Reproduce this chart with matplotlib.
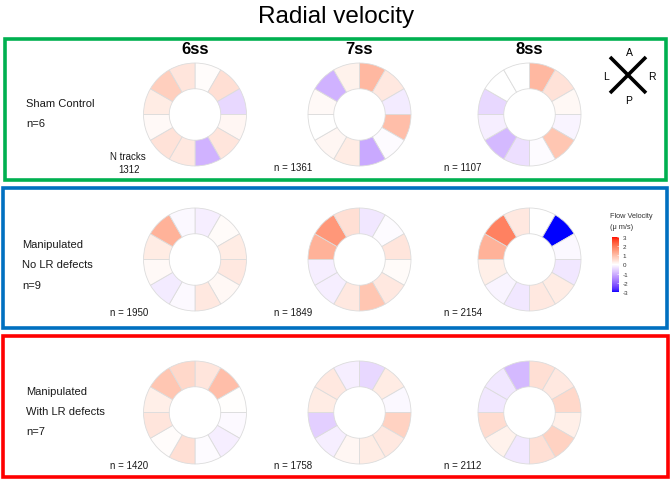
#!/usr/bin/env python

import numpy as np
import matplotlib as mpl
import matplotlib.pyplot as plt
from matplotlib.patches import Rectangle

mpl.rc('font', family=['Liberation Sans', 'DejaVu Sans'])
mpl.rc('axes', unicode_minus=False)
mpl.rc('savefig', dpi=100)

# 12 sectors per embryo, clockwise from 12 o'clock (um/s)
stages = ['6ss', '7ss', '8ss']

sham_6ss = [0.05, 0.5, -0.5, 0.15, 0.4, -1.0, 0.35, 0.45, 0.1, 0.3, 0.75, 0.4]
sham_7ss = [1.1, 0.35, -0.25, 1.0, -0.05, -1.1, 0.3, 0.15, 0.0, 0.1, -1.0, 0.2]
sham_8ss = [1.1, 0.45, 0.12, -0.15, 0.9, -0.05, -0.4, -0.9, -0.2, -0.5, 0.0, 0.0]

nolr_6ss = [-0.2, 0.08, 0.3, 0.35, 0.12, 0.35, -0.08, -0.25, 0.1, 0.3, 1.2, -0.1]
nolr_7ss = [-0.3, -0.05, 0.4, 0.08, 0.35, 0.9, 0.35, -0.2, -0.2, 1.2, 1.6, 0.5]
nolr_8ss = [0.0, -3.0, -0.1, -0.3, 0.3, 0.35, -0.3, -0.15, 0.25, 1.2, 1.9, 0.35]

lr_6ss = [0.4, 1.0, 0.03, -0.08, -0.2, -0.05, 0.5, 0.05, 0.4, 0.25, 0.9, 0.6]
lr_7ss = [-0.5, 0.3, -0.1, 0.7, 0.35, 0.3, 0.15, -0.2, -0.6, 0.3, 0.35, -0.2]
lr_8ss = [0.5, 0.35, 0.6, 0.25, 0.7, 0.5, -0.3, 0.2, 0.55, -0.3, -0.3, -0.9]

groups = [
    ['Sham Control', 'n=6'],
    ['Manipulated', 'No LR defects', 'n=9'],
    ['Manipulated', 'With LR defects', 'n=7'],
]
ntracks = [[1312, 1361, 1107], [1950, 1849, 2154], [1420, 1758, 2112]]
velocity = [
    [sham_6ss, sham_7ss, sham_8ss],
    [nolr_6ss, nolr_7ss, nolr_8ss],
    [lr_6ss, lr_7ss, lr_8ss],
]
cbar_ticks = [3, 2, 1, 0, -1, -2, -3]


def lab_to_rgb(lab):
    L, a, b = lab[:, 0], lab[:, 1], lab[:, 2]
    fy = (L + 16) / 116
    fx = fy + a / 500
    fz = fy - b / 200

    def finv(t):
        return np.where(t**3 > 0.008856, t**3, (t - 16/116) / 7.787)

    X = 0.95047 * finv(fx)
    Y = finv(fy)
    Z = 1.08883 * finv(fz)
    r = 3.2406*X - 1.5372*Y - 0.4986*Z
    g = -0.9689*X + 1.8758*Y + 0.0415*Z
    bb = 0.0557*X - 0.2040*Y + 1.0570*Z
    rgb = np.stack([r, g, bb], axis=1)
    rgb = np.clip(rgb, 0, 1)
    rgb = np.where(rgb <= 0.0031308, 12.92*rgb, 1.055*rgb**(1/2.4) - 0.055)
    return np.clip(rgb, 0, 1)


# blue - white - red, interpolated in Lab like ggplot's gradient2
blue = np.array([32.30, 79.19, -107.86])
white = np.array([100.0, 0.0, 0.0])
red = np.array([53.24, 80.09, 67.20])
t = np.linspace(0, 1, 128)[:, None]
lab = np.vstack([blue + (white - blue)*t, white + (red - white)*t[1:]])
cmap = mpl.colors.ListedColormap(lab_to_rgb(lab))
norm = mpl.colors.Normalize(vmin=-3, vmax=3)

W, H = 672, 481
fig = plt.figure(figsize=(W/100, H/100))

bg = fig.add_axes([0, 0, 1, 1])
bg.set_xlim(0, W)
bg.set_ylim(H, 0)
bg.axis('off')

bg.text(336, 17, 'Radial velocity', fontsize=17.5, ha='center', va='center')

boxes = [
    (4.5, 39.5, 665.5, 181, '#00B050'),
    (2.5, 188.5, 666.5, 328.5, '#0070C0'),
    (2.5, 337, 667.5, 478, '#FF0000'),
]
for x0, y0, x1, y1, col in boxes:
    bg.add_patch(Rectangle((x0, y0), x1 - x0, y1 - y0, fill=False,
                           edgecolor=col, lw=2.6, zorder=3))

col_x = [195, 359.5, 529.5]
row_y = [115.5, 260.5, 413.5]
R = 52

for j, st in enumerate(stages):
    bg.text(col_x[j], 50, st, fontsize=12, fontweight='bold',
            ha='center', va='center')

label_y = [[104, 124], [245, 265, 286], [392, 412, 432]]
label_x = [26, 22, 26]
for i, lines in enumerate(groups):
    for k, s in enumerate(lines):
        bg.text(label_x[i], label_y[i][k], s, fontsize=8, ha='left',
                va='center', color='#1a1a1a')

for i in range(3):
    for j in range(3):
        cx, cy = col_x[j], row_y[i]
        ax = fig.add_axes([(cx - R)/W, 1 - (cy + R)/H, 2*R/W, 2*R/H])
        ax.pie(
            np.ones(12),
            colors=cmap(norm(velocity[i][j])),
            startangle=90,
            counterclock=False,
            radius=1.0,
            wedgeprops=dict(width=0.5, edgecolor='#dcdcdc', linewidth=0.6),
        )
        ax.set_xlim(-1.01, 1.01)
        ax.set_ylim(-1.01, 1.01)
        ax.set_aspect('auto')

        if i == 0 and j == 0:
            bg.text(128, 157, 'N tracks', fontsize=7, ha='center',
                    va='center', color='#1a1a1a')
            bg.text(129, 170, str(ntracks[i][j]), fontsize=7, ha='center',
                    va='center', color='#1a1a1a')
        else:
            ny = row_y[i] + 53
            bg.text(cx - 85, ny, f'n = {ntracks[i][j]}', fontsize=7,
                    ha='left', va='center', color='#1a1a1a')

# orientation cross
bg.plot([610, 646], [58, 94], color='k', lw=2.6, solid_capstyle='butt')
bg.plot([646, 610], [58, 94], color='k', lw=2.6, solid_capstyle='butt')
for s, x, y in [('A', 629, 53), ('L', 606, 77), ('R', 652, 77), ('P', 629, 101)]:
    bg.text(x, y, s, fontsize=7.5, ha='center', va='center')

# colour bar
bg.text(610, 217, 'Flow Velocity', fontsize=5.3, ha='left', va='center',
        color='#333333')
bg.text(610, 228, '(\u03bc m/s)', fontsize=5.3, ha='left', va='center',
        color='#333333')
cax = fig.add_axes([612/W, 1 - 293/H, 7/W, 55/H])
cb = fig.colorbar(mpl.cm.ScalarMappable(norm=norm, cmap=cmap), cax=cax,
                  ticks=cbar_ticks)
cb.outline.set_visible(False)
cb.ax.tick_params(labelsize=4.5, length=1.5, width=0.4, pad=2.5,
                  direction='in', color='white', labelcolor='#333333')

fig.savefig('out.png', dpi=100)
